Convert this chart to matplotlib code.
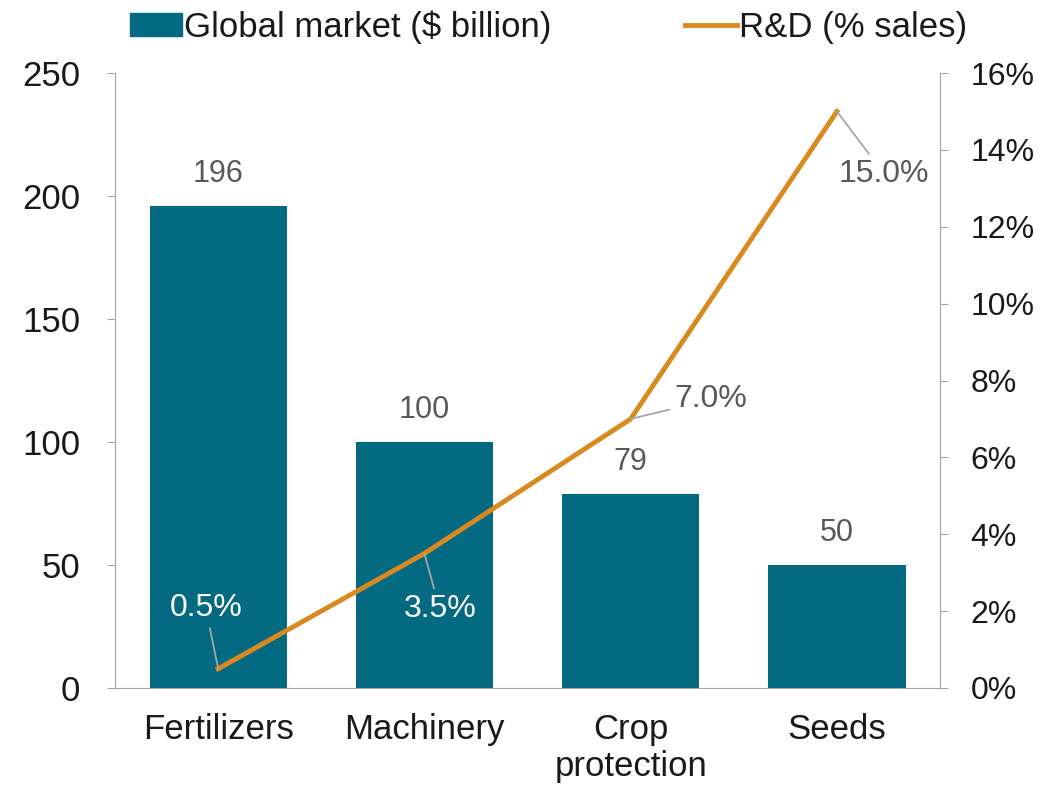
import matplotlib.pyplot as plt
from matplotlib.lines import Line2D
from matplotlib.patches import Patch
from matplotlib.ticker import FuncFormatter

plt.rcParams['font.family'] = ['Liberation Sans', 'DejaVu Sans']

# data
categories = ['Fertilizers', 'Machinery', 'Crop\nprotection', 'Seeds']
market = [196, 100, 79, 50]
rnd = [0.5, 3.5, 7.0, 15.0]

teal = '#046a82'
orange = '#d98a1e'
grey = '#a6a6a6'
txt = '#595959'
dark = '#1a1a1a'

fig = plt.figure(figsize=(10.4, 7.86), dpi=100)
ax = fig.add_axes([0.1106, 0.1247, 0.7933, 0.7824])
x = range(len(categories))
ax.bar(x, market, width=0.665, color=teal, zorder=2)
ax.set_xlim(-0.5, 3.5)
ax.set_ylim(0, 250)
ax.set_yticks(range(0, 251, 50))
ax.set_xticks(list(x))
ax.set_xticklabels(categories, fontsize=25, color=dark, linespacing=1.15)
ax.tick_params(axis='y', labelsize=25, colors=dark, length=6, color=grey, pad=19)
ax.tick_params(axis='x', length=0, pad=18)
for s in ['top', 'right']:
    ax.spines[s].set_visible(False)
ax.spines['left'].set_color(grey)
ax.spines['bottom'].set_color(grey)

# bar values
for i, v in enumerate(market):
    ax.annotate(str(v), (i, v), xytext=(0, 12), textcoords='offset points',
                ha='center', va='bottom', fontsize=22, color=txt)

ax2 = ax.twinx()
ax2.plot(x, rnd, color=orange, lw=3.5, zorder=3)
ax2.set_ylim(0, 16)
ax2.set_yticks(range(0, 17, 2))
ax2.yaxis.set_major_formatter(FuncFormatter(lambda v, p: f'{v:.0f}%'))
ax2.tick_params(axis='y', labelsize=23, colors=dark, length=6, color=grey, pad=16)
for s in ['top', 'left', 'bottom']:
    ax2.spines[s].set_visible(False)
ax2.spines['right'].set_color(grey)

# line values with leader lines
offsets = [(-9, 44), (11, -40), (58, 14), (34, -45)]
colors = ['white', 'white', txt, txt]
for i, v in enumerate(rnd):
    dx, dy = offsets[i]
    ax2.annotate(f'{v:.1f}%', (i, v), xytext=(dx, dy), textcoords='offset points',
                 ha='center', va='center', fontsize=23, color=colors[i],
                 arrowprops=dict(arrowstyle='-', color=grey, lw=1.3,
                                 shrinkA=2, shrinkB=0))

handles = [Patch(color=teal), Line2D([], [], color=orange, lw=3.5)]
fig.legend(handles, ['Global market ($ billion)', 'R&D (% sales)'],
           loc='center left', bbox_to_anchor=(0.125, 1 - 27 / 786), ncol=2,
           frameon=False, fontsize=25, handlelength=1.5, handleheight=0.66,
           handletextpad=0.05, columnspacing=3.85, borderpad=0, borderaxespad=0,
           labelcolor=dark)

fig.savefig('out.png', dpi=100)
